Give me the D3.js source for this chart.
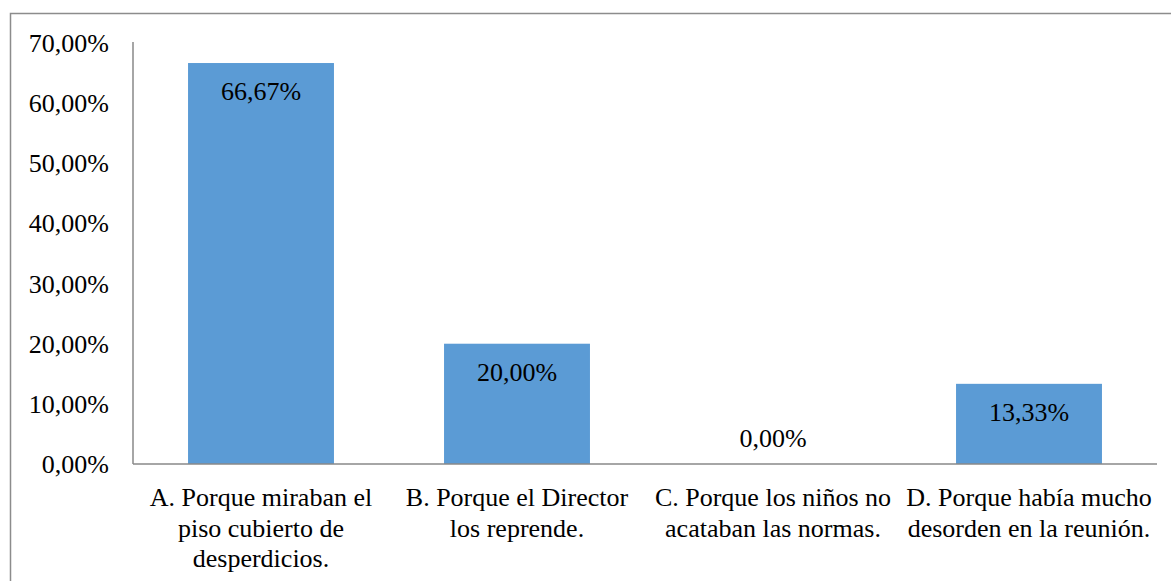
<!DOCTYPE html>
<html>
  <head>
    <meta charset="UTF-8" />
    <style>
      body { margin: 0; background: #fff; }
      text { font-family: 'Liberation Serif', 'Times New Roman', serif; font-size: 26px; fill: #000; }
    </style>
  </head>
  <body>
    <svg></svg>
    <script src="https://d3js.org/d3.v7.min.js"></script>
    <script>
      let width = 1171,
        height = 581

      // data
      const categories = ['A', 'B', 'C', 'D']
      const values = [66.67, 20.0, 0.0, 13.33]
      const categoryLines = [
        ['A. Porque miraban el', 'piso cubierto de', 'desperdicios.'],
        ['B. Porque el Director', 'los reprende.'],
        ['C. Porque los niños no', 'acataban las normas.'],
        ['D. Porque había mucho', 'desorden en la reunión.']
      ]
      const yTicks = [0, 10, 20, 30, 40, 50, 60, 70]

      const fmt = (v) => v.toFixed(2).replace('.', ',') + '%'

      let svg = d3.select('svg').attr('width', width).attr('height', height)

      // outer frame
      svg.append('rect')
        .attr('x', 10.5).attr('y', 13.5)
        .attr('width', 1200).attr('height', 700)
        .attr('fill', 'none').attr('stroke', '#8c8c8c').attr('stroke-width', 1.5)

      let x = d3.scaleBand().domain(categories).range([133, 1157]).paddingInner(0.43).paddingOuter(0.215)
      let y = d3.scaleLinear().domain([0, 70]).range([464, 43])

      // y tick labels
      svg.append('g')
        .selectAll('text')
        .data(yTicks)
        .enter()
        .append('text')
        .attr('x', 109)
        .attr('y', (d) => y(d) + 9)
        .attr('text-anchor', 'end')
        .text((d) => fmt(d))

      // bars
      svg.append('g')
        .selectAll('rect')
        .data(values)
        .enter()
        .append('rect')
        .attr('x', (d, i) => x(categories[i]))
        .attr('y', (d) => y(d))
        .attr('width', x.bandwidth())
        .attr('height', (d) => y(0) - y(d))
        .attr('fill', '#5b9bd5')

      // axis lines
      svg.append('line')
        .attr('x1', 133).attr('x2', 133).attr('y1', 42).attr('y2', 464)
        .attr('stroke', '#898989').attr('stroke-width', 1.5)
      svg.append('line')
        .attr('x1', 133).attr('x2', 1157).attr('y1', y(0)).attr('y2', y(0))
        .attr('stroke', '#898989').attr('stroke-width', 1.5)

      // value labels
      svg.append('g')
        .selectAll('text')
        .data(values)
        .enter()
        .append('text')
        .attr('x', (d, i) => x(categories[i]) + x.bandwidth() / 2)
        .attr('y', (d) => Math.min(y(d) + 37, y(0) - 17))
        .attr('text-anchor', 'middle')
        .text((d) => fmt(d))

      // category labels
      let cat = svg.append('g')
        .selectAll('text')
        .data(categoryLines)
        .enter()
        .append('text')
        .attr('text-anchor', 'middle')
      cat.each(function (lines, i) {
        let cx = x(categories[i]) + x.bandwidth() / 2
        d3.select(this)
          .selectAll('tspan')
          .data(lines)
          .enter()
          .append('tspan')
          .attr('x', cx)
          .attr('y', (d, j) => 506 + j * 30.5)
          .text((d) => d)
      })
    </script>
  </body>
</html>
